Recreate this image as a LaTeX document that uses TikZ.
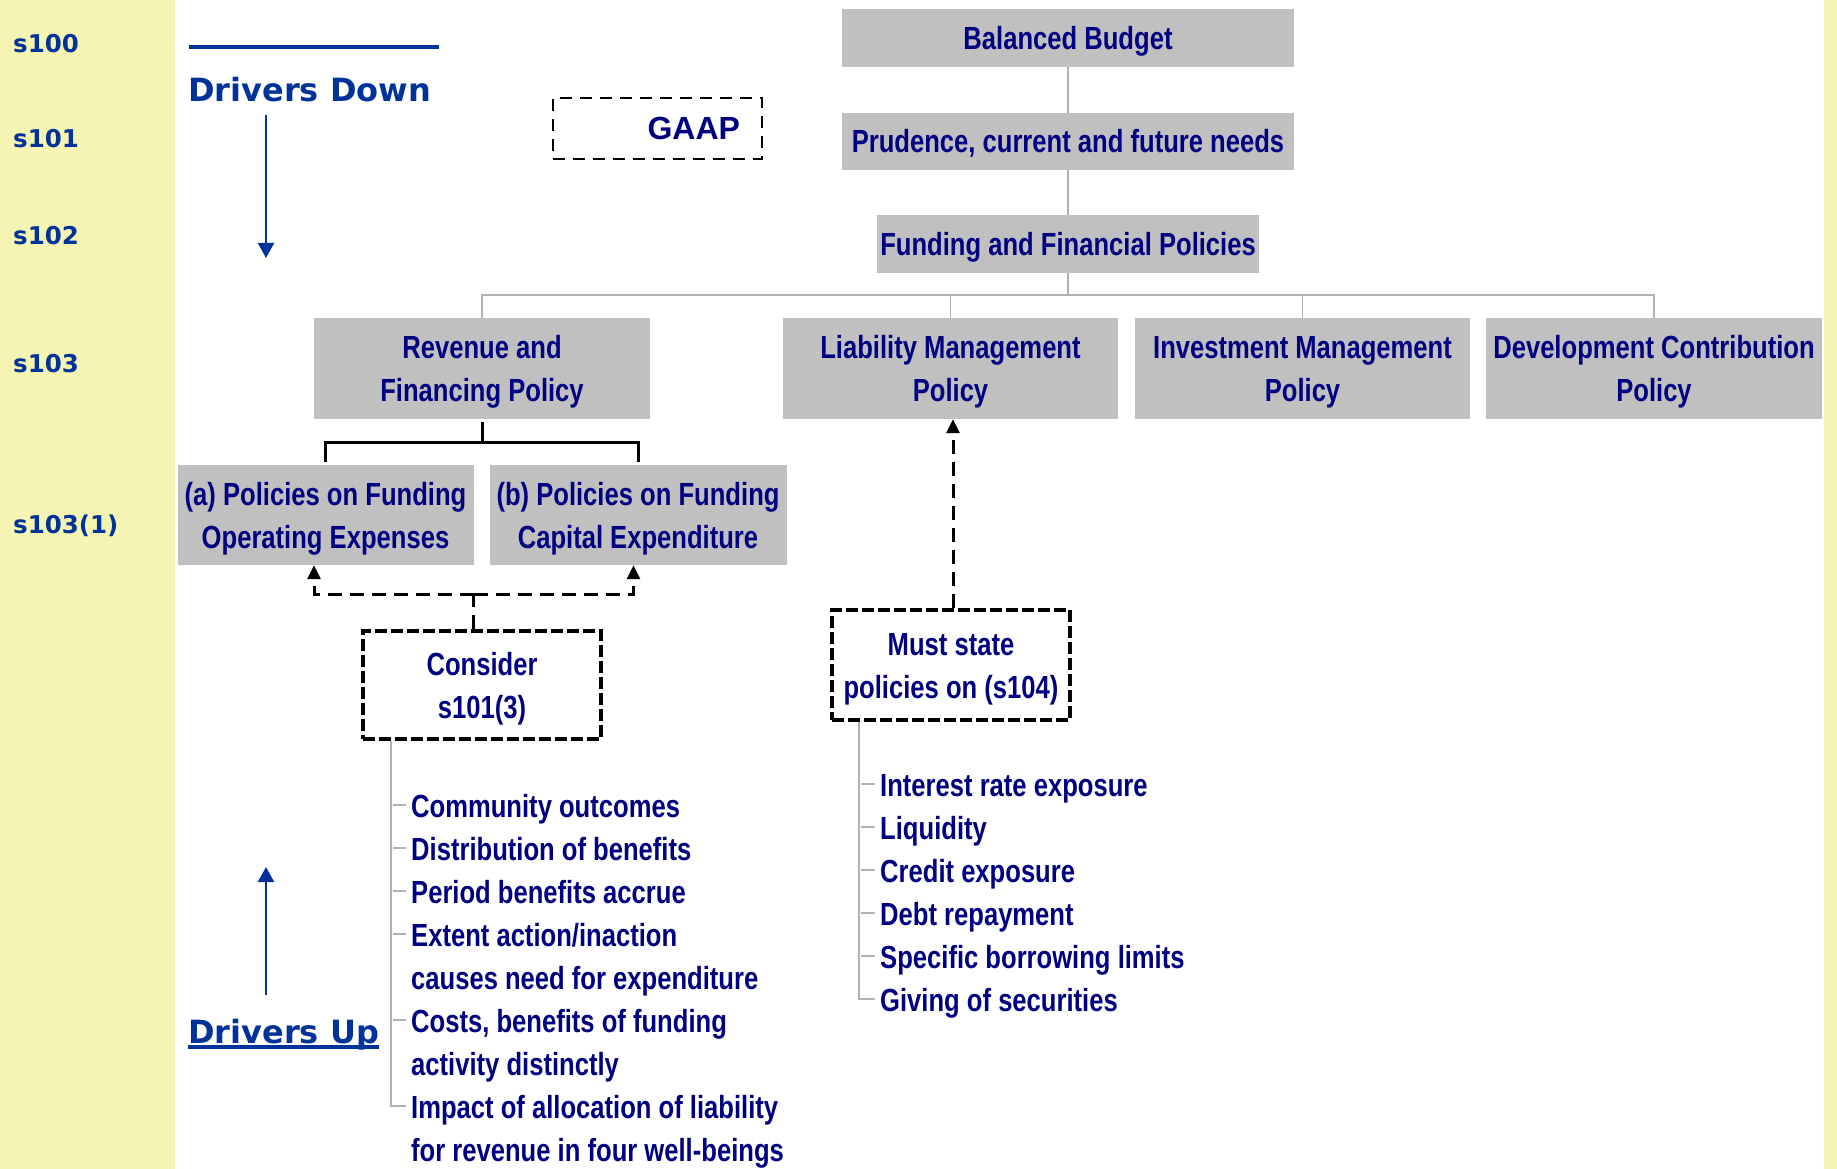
\documentclass[tikz,border=0pt]{standalone}
\usepackage{fontspec}
\usetikzlibrary{arrows.meta}
\newfontfamily\condf[FakeStretch=0.8]{Liberation Sans}
\newfontfamily\verdf{DejaVu Sans}
\newfontfamily\arialf{Liberation Sans}
\definecolor{bandyellow}{RGB}{246,244,178}
\definecolor{boxgray}{RGB}{192,192,192}
\definecolor{txtnavy}{RGB}{0,0,128}
\definecolor{lblblue}{RGB}{0,51,153}
\definecolor{linegray}{RGB}{178,178,178}
\tikzset{
  gbox/.style={fill=boxgray, draw=none, inner sep=0pt, text=txtnavy,
    font=\condf\bfseries\fontsize{32}{43}\selectfont, align=center,
    text height=23pt, text depth=0pt},
  gboxtwo/.style={gbox, text height=66pt, text depth=0pt},
  dbox/.style={gboxtwo, fill=white, draw=black, line width=4pt, dash pattern=on 12pt off 4pt},
  gaapbox/.style={draw=black, line width=2.5pt, dash pattern=on 12pt off 8pt, inner sep=0pt,
    text=txtnavy, font=\arialf\bfseries\fontsize{32}{38}\selectfont,
    text width=165pt, align=right, text height=23pt, text depth=0pt},
  slabel/.style={anchor=base west, inner sep=0pt, text=lblblue,
    font=\verdf\bfseries\fontsize{24.5}{28}\selectfont},
  drv/.style={anchor=base west, inner sep=0pt, text=lblblue,
    font=\verdf\bfseries\fontsize{32}{36}\selectfont},
  item/.style={anchor=base west, inner sep=0pt, text=txtnavy, align=left,
    font=\condf\bfseries\fontsize{32}{43}\selectfont},
  orgline/.style={draw=linegray, line width=1.8pt},
  listline/.style={draw=linegray, line width=2pt},
  bracket/.style={draw=black, line width=3pt},
  dashline/.style={draw=black, line width=3pt, dash pattern=on 14pt off 8pt},
  dasharrow/.style={dashline, -{Triangle[length=14pt,width=13pt]}},
  drvarrow/.style={draw=lblblue, line width=2.2pt, -{Triangle[length=15pt,width=16pt]}}
}
\begin{document}
\begin{tikzpicture}[x=1pt, y=-1pt]
\useasboundingbox (0,0) rectangle (1837,1169);
\fill[white] (0,0) rectangle (1837,1169);
\fill[bandyellow] (0,0) rectangle (175,1169);
\fill[bandyellow] (1824,0) rectangle (1837,1169);

% section labels
\node[slabel] (s100) at (13,52.5) {s100};
\node[slabel] (s101) at (13,148) {s101};
\node[slabel] (s102) at (13,244) {s102};
\node[slabel] (s103) at (13,372) {s103};
\node[slabel] (s1031) at (13,533) {s103(1)};

% drivers
\draw[draw=lblblue, line width=4.7pt] (189,47) -- (439,47);
\node[drv] (dd) at (188,102) {Drivers Down};
\coordinate (ddstart) at (266,115);
\coordinate (ddend) at (266,258);
\draw[drvarrow] (ddstart) -- (ddend);
\node[drv] (du) at (188,1043) {Drivers Up};
\draw[draw=lblblue, line width=3.5pt] ([yshift=-4pt]du.base west) -- ([yshift=-4pt]du.base east);
\coordinate (dustart) at (266,995);
\coordinate (duend) at (266,867);
\draw[drvarrow] (dustart) -- (duend);

% GAAP
\node[gaapbox, minimum width=209pt, minimum height=61pt] (gaap) at (657.5,128.5) {GAAP};

% top chain
\node[gbox, minimum width=452pt, minimum height=58pt] (bb) at (1068,38) {Balanced Budget};
\node[gbox, minimum width=452pt, minimum height=57pt] (pr) at (1068,141.5) {Prudence, current and future needs};
\node[gbox, minimum width=382pt, minimum height=58pt] (ff) at (1068,244) {Funding and Financial Policies};

% policy row
\node[gboxtwo, minimum width=336pt, minimum height=101pt] (rev) at (482,368.5) {Revenue and\\Financing Policy};
\node[gboxtwo, minimum width=335pt, minimum height=101pt] (lia) at (950.5,368.5) {Liability Management\\Policy};
\node[gboxtwo, minimum width=335pt, minimum height=101pt] (inv) at (1302.5,368.5) {Investment Management\\Policy};
\node[gboxtwo, minimum width=336pt, minimum height=101pt] (dev) at (1654,368.5) {Development Contribution\\Policy};

% sub policies
\node[gboxtwo, minimum width=296pt, minimum height=100pt] (pa) at (325.5,515) {(a) Policies on Funding\\Operating Expenses};
\node[gboxtwo, minimum width=297pt, minimum height=100pt] (pb) at (638,515) {(b) Policies on Funding\\Capital Expenditure};

% dashed boxes
\node[dbox, minimum width=238pt, minimum height=108pt] (cons) at (482,685) {Consider\\s101(3)};
\node[dbox, minimum width=238pt, minimum height=110pt] (must) at (951,665) {Must state\\policies on (s104)};

% org connectors
\coordinate (bus) at (1068,295);
\draw[orgline] (bb.south) -- (pr.north);
\draw[orgline] (pr.south) -- (ff.north);
\draw[orgline] (ff.south) -- (bus);
\draw[orgline] (rev.north) -- (rev.north |- bus) -- (dev.north |- bus) -- (dev.north);
\draw[orgline] (lia.north) -- (lia.north |- bus);
\draw[orgline] (inv.north) -- (inv.north |- bus);

% bracket
\coordinate (brk) at (482,442);
\draw[bracket] ([yshift=-3pt]rev.south) -- (brk);
\draw[bracket] ([yshift=3pt]pa.north) |- (brk) -| ([yshift=3pt]pb.north);

% dashed arrows
\coordinate (dj) at (473.5,594);
\draw[dashline] ([xshift=-8.5pt]cons.north) -- (dj);
\draw[dasharrow] (dj) -| ([xshift=-11.5pt]pa.south);
\draw[dasharrow] (dj) -| ([xshift=-4.5pt]pb.south);
\draw[dasharrow] ([xshift=2pt]must.north) -- ([xshift=2pt]must.north |- lia.south);

% list 1 (multi-line items are placed by their last baseline)
\node[item] (c1) at (411,817) {Community outcomes};
\node[item] (c2) at (411,860) {Distribution of benefits};
\node[item] (c3) at (411,903) {Period benefits accrue};
\node[item] (c4) at (411,989) {Extent action/inaction\\causes need for expenditure};
\node[item] (c5) at (411,1075) {Costs, benefits of funding\\activity distinctly};
\node[item] (c6) at (411,1161) {Impact of allocation of liability\\for revenue in four well-beings};
\draw[listline] ([xshift=30pt]cons.south west) |- ([xshift=-5pt,yshift=55pt]c6.base west);
\foreach \n in {c1,c2,c3}
  \draw[listline] ([xshift=-18pt,yshift=12pt]\n.base west) -- ++(13pt,0);
\foreach \n in {c4,c5}
  \draw[listline] ([xshift=-18pt,yshift=55pt]\n.base west) -- ++(13pt,0);

% list 2
\node[item] (l1) at (880,796) {Interest rate exposure};
\node[item] (l2) at (880,839) {Liquidity};
\node[item] (l3) at (880,882) {Credit exposure};
\node[item] (l4) at (880,925) {Debt repayment};
\node[item] (l5) at (880,968) {Specific borrowing limits};
\node[item] (l6) at (880,1011) {Giving of securities};
\draw[listline] ([xshift=29pt]must.south west) |- ([xshift=-5pt,yshift=12pt]l6.base west);
\foreach \n in {l1,l2,l3,l4,l5}
  \draw[listline] ([xshift=-19pt,yshift=12pt]\n.base west) -- ++(14pt,0);
\end{tikzpicture}
\end{document}
